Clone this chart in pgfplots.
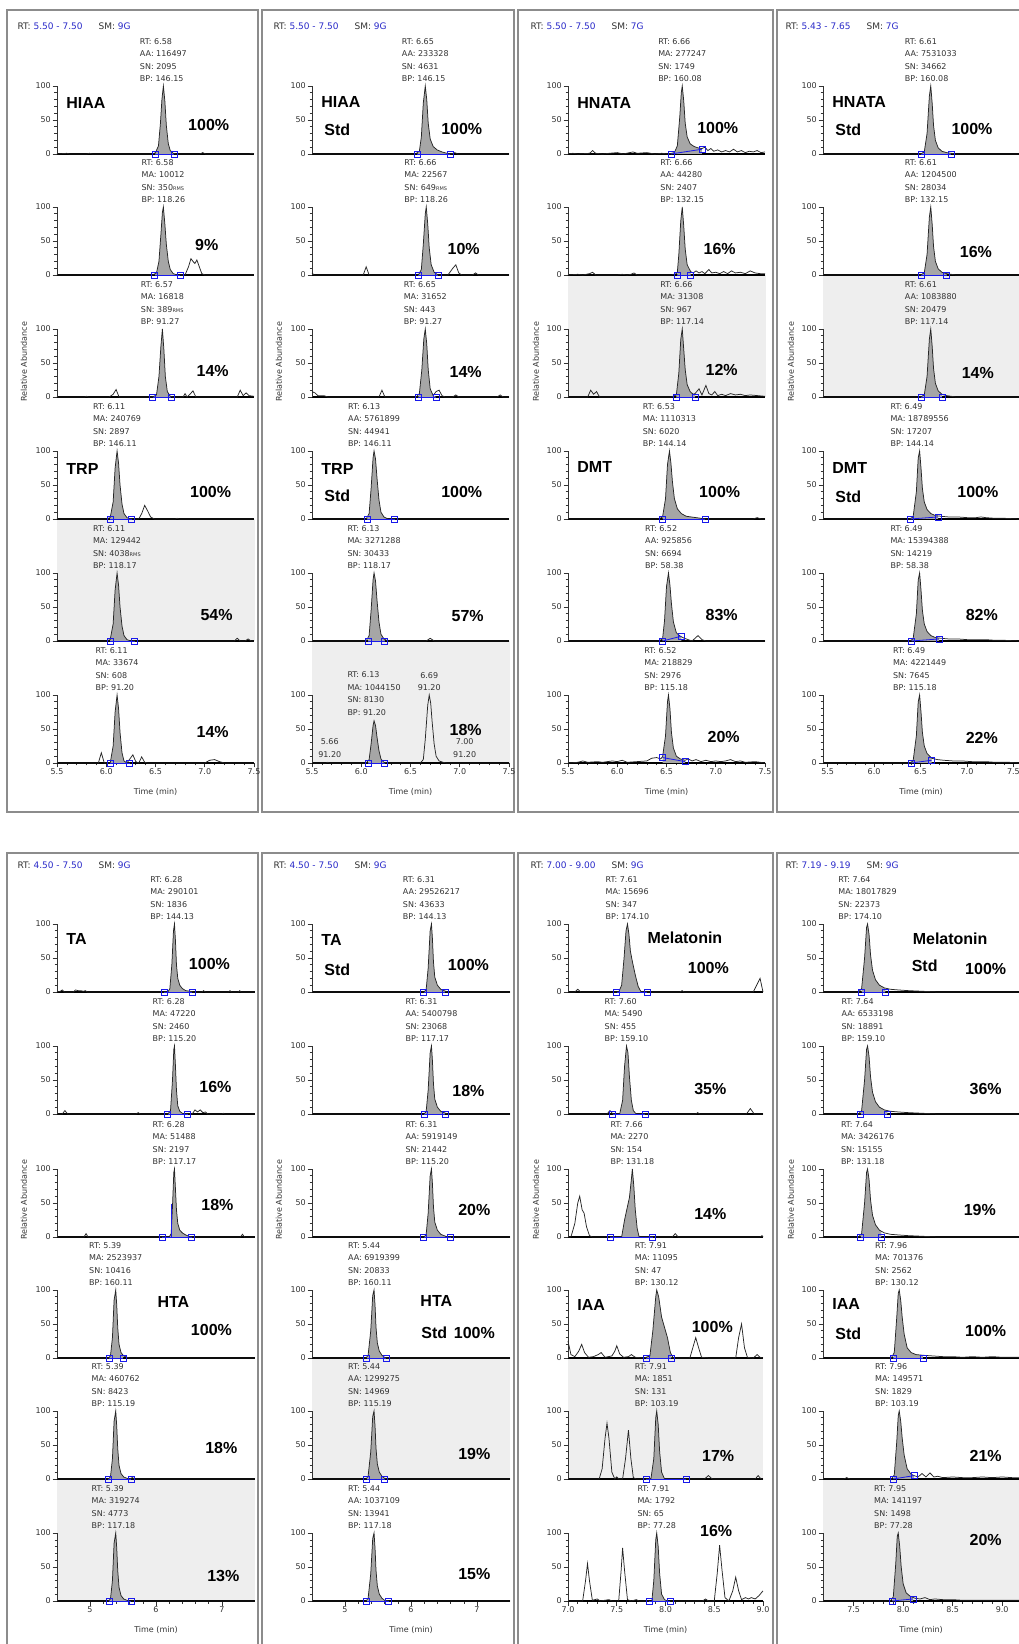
\documentclass[border=0pt]{standalone}
\usepackage{fontspec}
\setmainfont{DejaVu Sans}
\newfontfamily\lib{Liberation Sans}
\usepackage{pgfplots}
\pgfplotsset{compat=1.18}

\definecolor{pk}{RGB}{166,166,166}
\definecolor{bgp}{RGB}{238,238,238}
\definecolor{txt}{RGB}{50,50,50}
\definecolor{mk}{RGB}{25,25,235}
\definecolor{hb}{RGB}{40,40,200}
\definecolor{frm}{RGB}{140,140,140}

\newcommand{\sm}{\fontsize{8}{12.5}\selectfont}
\newcommand{\hdr}{\fontsize{9}{10}\selectfont}
\newcommand{\lab}{\lib\bfseries\fontsize{16}{18}\selectfont}
\newcommand{\rms}[1]{#1{\fontsize{5}{5}\selectfont RMS}}

\tikzset{anc/.style={anchor=south, align=left, font=\sm, text=txt, inner sep=0pt, yshift=4pt}}

% one chromatogram trace, its integrated peak, and the integration limits
\newcommand{\tr}[1]{\addplot[line width=0.75pt, black!85] coordinates {#1};}
\newcommand{\pkf}[1]{\addplot[draw=none, fill=pk] coordinates {#1} \closedcycle;}
\newcommand{\mks}[1]{\addplot[mk, line width=0.8pt, mark=square, mark size=3pt] coordinates {#1};}
\newcommand{\ann}[5][100]{\node[anc] at (axis cs:#2,#1) {RT: #2\\#3\\SN: #4\\BP: #5};}
\newcommand{\pct}[3]{\node[font=\lab] at (rel axis cs:#1,#2) {#3\%};}
\newcommand{\nm}[3]{\node[font=\lab, anchor=west] at (rel axis cs:#1,#2) {#3};}
\newcommand{\tlab}{\node[font=\sm, text=txt, yshift=-29pt] at (rel axis cs:0.5,0) {Time (min)};}

\pgfplotsset{
  chrom/.style={scale only axis, height=68pt, ymin=0, ymax=100, clip=false, anchor=south west,
    axis x line*=bottom, axis y line*=left,
    x axis line style={black, line width=1.6pt, -},
    y axis line style={black!80, line width=0.8pt, -},
    ytick={0,50,100}, yticklabels={0,50,100}, minor y tick num=4,
    xtick=\empty,
    tick align=outside, major tick length=4.5pt, minor tick length=2.5pt,
    tick style={black!80, line width=0.6pt},
    yticklabel style={font=\sm, text=txt, inner sep=1.5pt},
    xticklabel style={font=\sm, text=txt, inner sep=1pt},
  },
  cA/.style={chrom, xmin=5.5, xmax=7.5, width=197pt},
  cD/.style={chrom, xmin=5.45, xmax=7.56, width=196pt},
  cE/.style={chrom, xmin=4.5, xmax=7.5, width=198pt},
  cG/.style={chrom, xmin=7.0, xmax=9.0, width=195pt},
  cH/.style={chrom, xmin=7.19, xmax=9.17, width=196pt},
  lA/.style={xtick={5.5,6,6.5,7,7.5}, xticklabels={5.5,6.0,6.5,7.0,7.5}, minor x tick num=4},
  lE/.style={xtick={5,6,7}, xticklabels={5,6,7}, minor x tick num=4},
  lG/.style={xtick={7,7.5,8,8.5,9}, xticklabels={7.0,7.5,8.0,8.5,9.0}, minor x tick num=4},
  lH/.style={xtick={7.5,8,8.5,9}, xticklabels={7.5,8.0,8.5,9.0}, minor x tick num=4},
}

\begin{document}
\begin{tikzpicture}[x=1pt, y=1pt]
\useasboundingbox (0,0) rectangle (1019,1644);
\clip (0,0) rectangle (1019,1644);

% shaded sample traces
\fill[bgp] (57,1003) rectangle (255,1125);
\fill[bgp] (312,881) rectangle (510,1003);
\fill[bgp] (568,1247) rectangle (766,1369);
\fill[bgp] (823,1247) rectangle (1019,1369);
\fill[bgp] (57,43) rectangle (255,165);
\fill[bgp] (312,165) rectangle (510,286);
\fill[bgp] (568,165) rectangle (763,286);
\fill[bgp] (823,43) rectangle (1019,165);

% window frames
\draw[frm, line width=1.2pt] (7,832) rectangle (258,1634);
\draw[frm, line width=1.2pt] (262,832) rectangle (514,1634);
\draw[frm, line width=1.2pt] (518,832) rectangle (773,1634);
\draw[frm, line width=1.2pt] (777,832) rectangle (1030,1634);
\draw[frm, line width=1.2pt] (7,-5) rectangle (258,791);
\draw[frm, line width=1.2pt] (262,-5) rectangle (514,791);
\draw[frm, line width=1.2pt] (518,-5) rectangle (773,791);
\draw[frm, line width=1.2pt] (777,-5) rectangle (1030,791);

% window headers
\node[anchor=west, font=\hdr, text=txt] at (14,1618) {RT: \textcolor{hb}{5.50 - 7.50}\hspace{16pt}SM: \textcolor{hb}{9G}};
\node[anchor=west, font=\hdr, text=txt] at (270,1618) {RT: \textcolor{hb}{5.50 - 7.50}\hspace{16pt}SM: \textcolor{hb}{9G}};
\node[anchor=west, font=\hdr, text=txt] at (527,1618) {RT: \textcolor{hb}{5.50 - 7.50}\hspace{16pt}SM: \textcolor{hb}{7G}};
\node[anchor=west, font=\hdr, text=txt] at (782,1618) {RT: \textcolor{hb}{5.43 - 7.65}\hspace{16pt}SM: \textcolor{hb}{7G}};
\node[anchor=west, font=\hdr, text=txt] at (14,779) {RT: \textcolor{hb}{4.50 - 7.50}\hspace{16pt}SM: \textcolor{hb}{9G}};
\node[anchor=west, font=\hdr, text=txt] at (270,779) {RT: \textcolor{hb}{4.50 - 7.50}\hspace{16pt}SM: \textcolor{hb}{9G}};
\node[anchor=west, font=\hdr, text=txt] at (527,779) {RT: \textcolor{hb}{7.00 - 9.00}\hspace{16pt}SM: \textcolor{hb}{9G}};
\node[anchor=west, font=\hdr, text=txt] at (782,779) {RT: \textcolor{hb}{7.19 - 9.19}\hspace{16pt}SM: \textcolor{hb}{9G}};

% y-axis titles
\foreach \xx in {24,279,536,791} {
  \node[rotate=90, font=\sm, text=txt] at (\xx,1282) {Relative Abundance};
  \node[rotate=90, font=\sm, text=txt] at (\xx,444) {Relative Abundance};
}

%================ HIAA / TRP ================
\begin{axis}[cA, at={(57pt,1490pt)}]
\pkf{(6.50,0)(6.50,2)(6.53,12)(6.55,45)(6.565,80)(6.58,100)(6.595,78)(6.61,42)(6.63,15)(6.65,5)(6.68,1)(6.69,0)}
\tr{(5.5,0)(5.6,1)(5.63,0)(5.8,0)(5.83,1)(5.86,0)(6.47,0)(6.50,2)(6.53,12)(6.55,45)(6.565,80)(6.58,100)(6.595,78)(6.61,42)(6.63,15)(6.65,5)(6.68,1)(6.71,0)(6.95,0)(6.98,2)(7.01,0)(7.45,0)(7.48,1)(7.5,0)}
\mks{(6.50,0)(6.69,0)}
\ann{6.58}{AA: 116497}{2095}{146.15}
\nm{0.03}{0.75}{HIAA}
\pct{0.77}{0.43}{100}
\end{axis}
\begin{axis}[cA, at={(57pt,1369pt)}]
\pkf{(6.49,0)(6.51,3)(6.535,20)(6.555,60)(6.57,92)(6.58,100)(6.595,75)(6.61,45)(6.63,20)(6.65,8)(6.68,2)(6.72,0)}
\tr{(5.5,0)(6.47,0)(6.51,3)(6.535,20)(6.555,60)(6.57,92)(6.58,100)(6.595,75)(6.61,45)(6.63,20)(6.65,8)(6.68,2)(6.72,0)(6.80,0)(6.835,12)(6.86,24)(6.88,20)(6.90,17)(6.92,22)(6.94,14)(6.97,2)(7.0,0)(7.5,0)}
\mks{(6.49,0)(6.75,0)}
\ann{6.58}{MA: 10012}{\rms{350}}{118.26}
\pct{0.76}{0.44}{9}
\end{axis}
\begin{axis}[cA, at={(57pt,1247pt)}]
\pkf{(6.47,0)(6.51,3)(6.535,30)(6.555,75)(6.57,100)(6.585,70)(6.60,30)(6.62,8)(6.65,1)(6.66,0)}
\tr{(5.5,0)(5.78,0)(5.80,1)(5.82,0)(6.03,0)(6.07,4)(6.10,11)(6.13,0)(6.47,0)(6.51,3)(6.535,30)(6.555,75)(6.57,100)(6.585,70)(6.60,30)(6.62,8)(6.65,1)(6.68,0)(6.78,0)(6.80,5)(6.82,0)(6.85,4)(6.88,9)(6.91,0)(7.33,0)(7.36,10)(7.39,2)(7.42,6)(7.45,2)(7.5,1)}
\mks{(6.47,0)(6.66,0)}
\ann{6.57}{MA: 16818}{\rms{389}}{91.27}
\pct{0.79}{0.38}{14}
\end{axis}
\begin{axis}[cA, at={(57pt,1125pt)}]
\pkf{(6.04,0)(6.04,2)(6.07,25)(6.09,75)(6.11,100)(6.125,82)(6.14,50)(6.16,22)(6.18,8)(6.21,2)(6.25,0)(6.26,0)}
\tr{(5.5,0)(6.0,0)(6.04,2)(6.07,25)(6.09,75)(6.11,100)(6.125,82)(6.14,50)(6.16,22)(6.18,8)(6.21,2)(6.25,0)(6.33,0)(6.36,8)(6.39,20)(6.42,12)(6.45,3)(6.49,0)(6.70,0)(6.72,1)(6.74,0)(7.5,0)}
\mks{(6.04,0)(6.26,0)}
\ann{6.11}{MA: 240769}{2897}{146.11}
\nm{0.03}{0.74}{TRP}
\pct{0.78}{0.39}{100}
\end{axis}
\begin{axis}[cA, at={(57pt,1003pt)}]
\pkf{(6.04,0)(6.04,2)(6.07,25)(6.09,75)(6.11,100)(6.125,82)(6.14,50)(6.16,22)(6.18,8)(6.21,2)(6.25,0)(6.29,0)}
\tr{(5.5,0)(6.0,0)(6.04,2)(6.07,25)(6.09,75)(6.11,100)(6.125,82)(6.14,50)(6.16,22)(6.18,8)(6.21,2)(6.25,0)(7.30,0)(7.33,4)(7.36,0)(7.41,0)(7.44,3)(7.47,0)(7.5,0)}
\mks{(6.04,0)(6.29,0)}
\ann{6.11}{MA: 129442}{\rms{4038}}{118.17}
\pct{0.81}{0.38}{54}
\end{axis}
\begin{axis}[cA, lA, at={(57pt,881pt)}]
\pkf{(6.04,0)(6.07,25)(6.09,75)(6.11,100)(6.125,80)(6.14,45)(6.16,15)(6.18,3)(6.21,0)(6.24,0)}
\tr{(5.5,0)(5.92,0)(5.95,15)(5.98,0)(6.04,0)(6.07,25)(6.09,75)(6.11,100)(6.125,80)(6.14,45)(6.16,15)(6.18,3)(6.21,0)(6.24,6)(6.27,12)(6.30,2)(6.33,0)(6.36,9)(6.39,1)(6.42,0)(7.0,0)(7.05,4)(7.10,5)(7.15,2)(7.2,0)(7.5,0)}
\mks{(6.04,0)(6.24,0)}
\ann{6.11}{MA: 33674}{608}{91.20}
\pct{0.79}{0.45}{14}
\tlab
\end{axis}

%================ HIAA Std / TRP Std ================
\begin{axis}[cA, at={(312pt,1490pt)}]
\pkf{(6.57,0)(6.59,4)(6.61,25)(6.63,75)(6.65,100)(6.665,80)(6.68,45)(6.70,22)(6.73,11)(6.77,6)(6.82,3)(6.87,1)(6.90,0)}
\tr{(5.5,0)(6.55,0)(6.59,4)(6.61,25)(6.63,75)(6.65,100)(6.665,80)(6.68,45)(6.70,22)(6.73,11)(6.77,6)(6.82,3)(6.87,1)(6.91,0)(6.95,2)(6.98,0)(7.5,0)}
\mks{(6.57,0)(6.90,0)}
\ann{6.65}{AA: 233328}{4631}{146.15}
\nm{0.03}{0.77}{HIAA}
\nm{0.045}{0.35}{Std}
\pct{0.76}{0.37}{100}
\end{axis}
\begin{axis}[cA, at={(312pt,1369pt)}]
\pkf{(6.58,0)(6.61,8)(6.63,45)(6.65,90)(6.66,100)(6.675,75)(6.69,40)(6.71,15)(6.74,4)(6.78,0)}
\tr{(5.5,3)(5.52,0)(6.02,0)(6.05,12)(6.08,0)(6.58,0)(6.61,8)(6.63,45)(6.65,90)(6.66,100)(6.675,75)(6.69,40)(6.71,15)(6.74,4)(6.78,0)(6.88,0)(6.93,10)(6.96,15)(6.99,3)(7.02,0)(7.13,0)(7.16,3)(7.19,0)(7.5,0)}
\mks{(6.58,0)(6.78,0)}
\ann{6.66}{MA: 22567}{\rms{649}}{118.26}
\pct{0.77}{0.375}{10}
\end{axis}
\begin{axis}[cA, at={(312pt,1247pt)}]
\pkf{(6.58,0)(6.59,5)(6.615,40)(6.635,85)(6.65,100)(6.665,78)(6.68,40)(6.70,12)(6.73,2)(6.76,0)}
\tr{(5.5,8)(5.53,6)(5.56,2)(5.62,2)(5.66,0)(6.18,0)(6.21,10)(6.24,0)(6.56,0)(6.59,5)(6.615,40)(6.635,85)(6.65,100)(6.665,78)(6.68,40)(6.70,12)(6.73,2)(6.76,8)(6.79,10)(6.82,2)(6.85,0)(6.93,0)(6.96,3)(6.99,0)(7.38,0)(7.41,3)(7.44,0)(7.5,0)}
\mks{(6.58,0)(6.76,0)}
\ann{6.65}{MA: 31652}{443}{91.27}
\pct{0.78}{0.37}{14}
\end{axis}
\begin{axis}[cA, at={(312pt,1125pt)}]
\pkf{(6.06,0)(6.08,8)(6.10,45)(6.12,90)(6.13,100)(6.145,88)(6.16,60)(6.18,28)(6.20,10)(6.23,3)(6.27,0)(6.34,0)}
\tr{(5.5,0)(6.05,0)(6.08,8)(6.10,45)(6.12,90)(6.13,100)(6.145,88)(6.16,60)(6.18,28)(6.20,10)(6.23,3)(6.27,0)(7.5,0)}
\mks{(6.06,0)(6.34,0)}
\ann{6.13}{AA: 5761899}{44941}{146.11}
\nm{0.03}{0.74}{TRP}
\nm{0.045}{0.34}{Std}
\pct{0.76}{0.39}{100}
\end{axis}
\begin{axis}[cA, at={(312pt,1003pt)}]
\pkf{(6.07,0)(6.08,8)(6.10,45)(6.12,90)(6.13,100)(6.145,88)(6.16,60)(6.18,28)(6.20,10)(6.23,3)(6.24,0)}
\tr{(5.5,0)(6.05,0)(6.08,8)(6.10,45)(6.12,90)(6.13,100)(6.145,88)(6.16,60)(6.18,28)(6.20,10)(6.23,3)(6.27,0)(6.66,0)(6.70,4)(6.74,0)(7.5,0)}
\mks{(6.07,0)(6.24,0)}
\ann{6.13}{MA: 3271288}{30433}{118.17}
\pct{0.79}{0.36}{57}
\end{axis}
\begin{axis}[cA, lA, at={(312pt,881pt)}]
\pkf{(6.07,0)(6.08,5)(6.10,28)(6.12,55)(6.13,62)(6.145,55)(6.16,38)(6.18,18)(6.20,6)(6.23,1)(6.24,0)}
\tr{(5.5,0)(5.64,0)(5.66,1)(5.68,0)(6.05,0)(6.08,5)(6.10,28)(6.12,55)(6.13,62)(6.145,55)(6.16,38)(6.18,18)(6.20,6)(6.23,1)(6.27,0)(6.60,0)(6.63,5)(6.65,35)(6.675,85)(6.69,100)(6.705,88)(6.72,60)(6.74,28)(6.76,10)(6.79,3)(6.83,1)(6.87,0)(7.5,0)}
\mks{(6.07,0)(6.24,0)}
\ann[64]{6.13}{MA: 1044150}{8130}{91.20}
\node[anc, align=center] at (axis cs:6.69,100) {6.69\\91.20};
\node[anc, align=center] at (axis cs:5.68,2) {5.66\\91.20};
\node[anc, align=center] at (axis cs:7.05,2) {7.00\\91.20};
\pct{0.78}{0.48}{18}
\tlab
\end{axis}

%================ HNATA / DMT ================
\begin{axis}[cA, at={(568pt,1490pt)}]
\pkf{(6.545,0)(6.58,2)(6.61,12)(6.635,55)(6.65,90)(6.66,100)(6.675,78)(6.69,45)(6.71,25)(6.74,15)(6.78,11)(6.82,9)(6.86,8)}
\tr{(5.5,0)(5.55,1)(5.6,0)(5.72,1)(5.75,5)(5.78,1)(5.85,0)(5.92,1)(6.0,2)(6.06,0)(6.16,3)(6.2,1)(6.3,2)(6.38,0)(6.45,1)(6.52,0)(6.58,2)(6.61,12)(6.635,55)(6.65,90)(6.66,100)(6.675,78)(6.69,45)(6.71,25)(6.74,15)(6.78,11)(6.82,9)(6.86,8)(6.89,10)(6.92,5)(6.95,8)(6.98,4)(7.02,6)(7.06,3)(7.10,5)(7.14,3)(7.18,7)(7.22,3)(7.26,5)(7.30,2)(7.34,4)(7.38,3)(7.42,5)(7.46,2)(7.5,3)}
\mks{(6.545,0)(6.86,7)}
\ann{6.66}{MA: 277247}{1749}{160.08}
\nm{0.03}{0.75}{HNATA}
\pct{0.76}{0.385}{100}
\end{axis}
\begin{axis}[cA, at={(568pt,1369pt)}]
\pkf{(6.61,0)(6.61,4)(6.625,30)(6.645,80)(6.66,100)(6.675,72)(6.69,38)(6.71,15)(6.745,5)}
\tr{(5.5,0)(5.6,1)(5.65,0)(5.72,2)(5.75,4)(5.78,0)(6.0,0)(6.05,1)(6.1,0)(6.14,1)(6.17,3)(6.2,0)(6.55,0)(6.6,2)(6.61,4)(6.625,30)(6.645,80)(6.66,100)(6.675,72)(6.69,38)(6.71,15)(6.745,5)(6.77,3)(6.80,6)(6.83,3)(6.86,5)(6.89,2)(6.93,8)(6.96,3)(7.0,4)(7.04,2)(7.08,5)(7.12,2)(7.16,6)(7.2,3)(7.25,4)(7.3,2)(7.35,6)(7.4,3)(7.45,2)(7.5,2)}
\mks{(6.61,0)(6.745,0)}
\ann{6.66}{AA: 44280}{2407}{132.15}
\pct{0.77}{0.375}{16}
\end{axis}
\begin{axis}[cA, at={(568pt,1247pt)}]
\pkf{(6.60,0)(6.60,3)(6.625,35)(6.645,85)(6.66,100)(6.675,70)(6.69,40)(6.71,18)(6.74,8)(6.77,4)(6.79,5)}
\tr{(5.5,0)(5.70,0)(5.73,10)(5.76,4)(5.79,8)(5.82,0)(6.55,0)(6.60,3)(6.625,35)(6.645,85)(6.66,100)(6.675,70)(6.69,40)(6.71,18)(6.74,8)(6.77,4)(6.79,5)(6.83,12)(6.86,3)(6.90,17)(6.93,5)(6.96,3)(6.99,8)(7.02,2)(7.06,4)(7.10,2)(7.15,5)(7.20,3)(7.25,4)(7.30,2)(7.35,3)(7.5,1)}
\mks{(6.60,0)(6.79,0)}
\ann{6.66}{MA: 31308}{967}{117.14}
\pct{0.78}{0.40}{12}
\end{axis}
\begin{axis}[cA, at={(568pt,1125pt)}]
\pkf{(6.46,0)(6.46,3)(6.49,30)(6.51,80)(6.53,100)(6.545,82)(6.56,55)(6.58,30)(6.61,15)(6.65,8)(6.70,4)(6.75,3)(6.80,2)(6.85,1)(6.89,0)}
\tr{(5.5,0)(6.42,0)(6.46,3)(6.49,30)(6.51,80)(6.53,100)(6.545,82)(6.56,55)(6.58,30)(6.61,15)(6.65,8)(6.70,4)(6.75,3)(6.80,2)(6.85,1)(6.90,0)(7.38,0)(7.42,2)(7.46,0)(7.5,0)}
\mks{(6.46,0)(6.89,0)}
\ann{6.53}{MA: 1110313}{6020}{144.14}
\nm{0.03}{0.77}{DMT}
\pct{0.77}{0.39}{100}
\end{axis}
\begin{axis}[cA, at={(568pt,1003pt)}]
\pkf{(6.46,0)(6.46,3)(6.48,30)(6.50,80)(6.52,100)(6.535,82)(6.55,55)(6.57,28)(6.60,12)(6.64,7)(6.65,7)}
\tr{(5.5,0)(6.42,0)(6.46,3)(6.48,30)(6.50,80)(6.52,100)(6.535,82)(6.55,55)(6.57,28)(6.60,12)(6.64,7)(6.68,4)(6.72,2)(6.76,0)(6.79,4)(6.82,8)(6.86,2)(6.90,0)(7.5,0)}
\mks{(6.46,0)(6.65,7)}
\ann{6.52}{AA: 925856}{6694}{58.38}
\pct{0.78}{0.38}{83}
\end{axis}
\begin{axis}[cA, lA, at={(568pt,881pt)}]
\pkf{(6.46,0)(6.46,9)(6.49,40)(6.51,90)(6.52,100)(6.535,80)(6.55,45)(6.57,22)(6.60,10)(6.64,6)(6.69,4)}
\tr{(5.5,0)(5.6,1)(5.65,3)(5.7,1)(5.8,2)(5.85,1)(5.95,3)(6.0,2)(6.05,4)(6.1,1)(6.2,2)(6.3,3)(6.35,7)(6.40,8)(6.44,6)(6.46,9)(6.49,40)(6.51,90)(6.52,100)(6.535,80)(6.55,45)(6.57,22)(6.60,10)(6.64,6)(6.69,4)(6.72,6)(6.76,3)(6.80,5)(6.85,2)(6.90,4)(6.95,2)(7.0,3)(7.05,2)(7.10,3)(7.15,5)(7.2,2)(7.25,3)(7.3,1)(7.4,2)(7.5,0)}
\mks{(6.46,8)(6.69,2)}
\ann{6.52}{MA: 218829}{2976}{115.18}
\pct{0.79}{0.385}{20}
\tlab
\end{axis}

%================ HNATA Std / DMT Std ================
\begin{axis}[cD, at={(823pt,1490pt)}]
\pkf{(6.51,0)(6.54,3)(6.57,30)(6.595,85)(6.61,100)(6.625,75)(6.64,42)(6.66,20)(6.69,9)(6.73,4)(6.78,2)(6.83,1)}
\tr{(5.45,0)(6.50,0)(6.54,3)(6.57,30)(6.595,85)(6.61,100)(6.625,75)(6.64,42)(6.66,20)(6.69,9)(6.73,4)(6.78,2)(6.83,1)(6.88,0)(7.56,0)}
\mks{(6.51,0)(6.83,0)}
\ann{6.61}{AA: 7531033}{34662}{160.08}
\nm{0.03}{0.77}{HNATA}
\nm{0.045}{0.35}{Std}
\pct{0.76}{0.37}{100}
\end{axis}
\begin{axis}[cD, at={(823pt,1369pt)}]
\pkf{(6.51,0)(6.54,3)(6.57,30)(6.595,85)(6.61,100)(6.625,75)(6.64,42)(6.66,20)(6.69,9)(6.73,4)(6.78,2)}
\tr{(5.45,0)(6.50,0)(6.54,3)(6.57,30)(6.595,85)(6.61,100)(6.625,75)(6.64,42)(6.66,20)(6.69,9)(6.73,4)(6.78,2)(6.83,1)(6.88,0)(7.56,0)}
\mks{(6.51,0)(6.78,0)}
\ann{6.61}{AA: 1204500}{28034}{132.15}
\pct{0.78}{0.34}{16}
\end{axis}
\begin{axis}[cD, at={(823pt,1247pt)}]
\pkf{(6.51,0)(6.54,3)(6.57,30)(6.595,85)(6.61,100)(6.625,75)(6.64,42)(6.66,20)(6.69,9)(6.73,4)}
\tr{(5.45,0)(6.50,0)(6.54,3)(6.57,30)(6.595,85)(6.61,100)(6.625,75)(6.64,42)(6.66,20)(6.69,9)(6.73,4)(6.78,2)(6.83,1)(6.88,0)(7.56,0)}
\mks{(6.51,0)(6.73,0)}
\ann{6.61}{AA: 1083880}{20479}{117.14}
\pct{0.79}{0.35}{14}
\end{axis}
\begin{axis}[cD, at={(823pt,1125pt)}]
\pkf{(6.39,0)(6.42,3)(6.455,40)(6.475,90)(6.49,100)(6.505,75)(6.52,45)(6.54,25)(6.57,14)(6.61,8)(6.66,5)(6.69,4)}
\tr{(5.45,0)(6.38,0)(6.42,3)(6.455,40)(6.475,90)(6.49,100)(6.505,75)(6.52,45)(6.54,25)(6.57,14)(6.61,8)(6.66,5)(6.72,4)(6.80,3)(6.90,3)(7.0,2)(7.1,2)(7.15,3)(7.2,2)(7.3,1)(7.4,1)(7.56,0)}
\mks{(6.39,0)(6.69,3)}
\ann{6.49}{MA: 18789556}{17207}{144.14}
\nm{0.03}{0.75}{DMT}
\nm{0.045}{0.33}{Std}
\pct{0.79}{0.39}{100}
\end{axis}
\begin{axis}[cD, at={(823pt,1003pt)}]
\pkf{(6.40,0)(6.42,3)(6.455,40)(6.475,90)(6.49,100)(6.505,75)(6.52,45)(6.54,25)(6.57,14)(6.61,8)(6.66,5)(6.70,4)}
\tr{(5.45,0)(6.38,0)(6.42,3)(6.455,40)(6.475,90)(6.49,100)(6.505,75)(6.52,45)(6.54,25)(6.57,14)(6.61,8)(6.66,5)(6.72,4)(6.80,3)(6.90,3)(7.0,2)(7.1,2)(7.2,2)(7.3,1)(7.4,1)(7.56,0)}
\mks{(6.40,0)(6.70,3)}
\ann{6.49}{MA: 15394388}{14219}{58.38}
\pct{0.81}{0.38}{82}
\end{axis}
\begin{axis}[cD, lA, at={(823pt,881pt)}]
\pkf{(6.40,0)(6.42,3)(6.455,40)(6.475,90)(6.49,100)(6.505,75)(6.52,45)(6.54,25)(6.57,14)(6.62,7)}
\tr{(5.45,0)(6.38,0)(6.42,3)(6.455,40)(6.475,90)(6.49,100)(6.505,75)(6.52,45)(6.54,25)(6.57,14)(6.62,7)(6.68,5)(6.75,4)(6.85,3)(6.95,3)(7.05,2)(7.2,2)(7.3,1)(7.45,1)(7.56,0)}
\mks{(6.40,0)(6.62,4)}
\ann{6.49}{MA: 4221449}{7645}{115.18}
\pct{0.81}{0.37}{22}
\tlab
\end{axis}

%================ TA / HTA ================
\begin{axis}[cE, at={(57pt,652pt)}]
\pkf{(6.12,0)(6.18,0)(6.21,5)(6.24,40)(6.265,90)(6.28,100)(6.295,75)(6.31,40)(6.33,20)(6.36,10)(6.40,5)(6.45,2)(6.52,1)(6.55,0)}
\tr{(4.5,0)(4.55,1)(4.58,3)(4.61,0)(4.75,0)(4.78,3)(4.82,2)(4.86,2)(4.9,1)(4.93,2)(4.96,0)(6.18,0)(6.21,5)(6.24,40)(6.265,90)(6.28,100)(6.295,75)(6.31,40)(6.33,20)(6.36,10)(6.40,5)(6.45,2)(6.52,1)(6.56,0)(6.70,0)(6.72,2)(6.75,0)(7.10,0)(7.12,2)(7.14,0)(7.25,0)(7.27,2)(7.29,0)(7.5,0)}
\mks{(6.12,0)(6.55,0)}
\ann{6.28}{MA: 290101}{1836}{144.13}
\nm{0.03}{0.78}{TA}
\pct{0.77}{0.41}{100}
\end{axis}
\begin{axis}[cE, at={(57pt,530pt)}]
\pkf{(6.18,0)(6.22,5)(6.25,50)(6.27,95)(6.28,100)(6.295,70)(6.31,35)(6.33,12)(6.36,4)(6.40,1)(6.45,0)(6.48,0)}
\tr{(4.5,0)(4.58,0)(4.62,5)(4.66,0)(5.70,0)(5.73,2)(5.76,0)(6.18,0)(6.22,5)(6.25,50)(6.27,95)(6.28,100)(6.295,70)(6.31,35)(6.33,12)(6.36,4)(6.40,1)(6.45,0)(6.55,0)(6.59,6)(6.63,3)(6.67,6)(6.71,2)(6.75,3)(6.78,0)(7.0,0)(7.02,1)(7.04,0)(7.5,0)}
\mks{(6.18,0)(6.48,0)}
\ann{6.28}{MA: 47220}{2460}{115.20}
\pct{0.80}{0.40}{16}
\end{axis}
\begin{axis}[cE, at={(57pt,407pt)}]
\pkf{(6.09,0)(6.20,0)(6.23,5)(6.25,45)(6.27,95)(6.28,100)(6.295,70)(6.31,40)(6.33,20)(6.36,10)(6.40,6)(6.45,3)(6.50,1)(6.54,0)}
\tr{(4.5,0)(4.91,0)(4.94,5)(4.97,0)(6.20,0)(6.23,5)(6.25,45)(6.27,95)(6.28,100)(6.295,70)(6.31,40)(6.33,20)(6.36,10)(6.40,6)(6.45,3)(6.50,1)(6.55,0)(7.28,0)(7.31,4)(7.34,0)(7.5,0)}
\addplot[mk, line width=0.7pt] coordinates {(6.235,0)(6.235,48)};
\mks{(6.09,0)(6.54,0)}
\ann{6.28}{MA: 51488}{2197}{117.17}
\pct{0.81}{0.47}{18}
\end{axis}
\begin{axis}[cE, at={(57pt,286pt)}]
\pkf{(5.29,0)(5.31,3)(5.34,30)(5.365,85)(5.39,100)(5.405,78)(5.42,45)(5.44,20)(5.47,8)(5.50,3)}
\tr{(4.5,0)(5.28,0)(5.31,3)(5.34,30)(5.365,85)(5.39,100)(5.405,78)(5.42,45)(5.44,20)(5.47,8)(5.51,3)(5.56,1)(5.60,0)(7.5,0)}
\mks{(5.29,0)(5.50,0)}
\ann{5.39}{MA: 2523937}{10416}{160.11}
\nm{0.49}{0.83}{HTA}
\pct{0.78}{0.41}{100}
\end{axis}
\begin{axis}[cE, at={(57pt,165pt)}]
\pkf{(5.28,0)(5.31,3)(5.34,30)(5.365,85)(5.39,100)(5.405,78)(5.42,45)(5.44,20)(5.47,8)(5.51,3)(5.56,1)(5.60,0)(5.62,0)}
\tr{(4.5,0)(5.28,0)(5.31,3)(5.34,30)(5.365,85)(5.39,100)(5.405,78)(5.42,45)(5.44,20)(5.47,8)(5.51,3)(5.56,1)(5.60,0)(5.64,2)(5.68,0)(7.5,0)}
\mks{(5.28,0)(5.62,0)}
\ann{5.39}{MA: 460762}{8423}{115.19}
\pct{0.83}{0.45}{18}
\end{axis}
\begin{axis}[cE, lE, at={(57pt,43pt)}]
\pkf{(5.29,0)(5.31,3)(5.34,30)(5.365,85)(5.39,100)(5.405,78)(5.42,45)(5.44,20)(5.47,8)(5.51,3)(5.56,1)(5.60,0)(5.62,0)}
\tr{(4.5,0)(5.28,0)(5.31,3)(5.34,30)(5.365,85)(5.39,100)(5.405,78)(5.42,45)(5.44,20)(5.47,8)(5.51,3)(5.56,1)(5.60,0)(7.5,0)}
\mks{(5.29,0)(5.62,0)}
\ann{5.39}{MA: 319274}{4773}{117.18}
\pct{0.84}{0.37}{13}
\tlab
\end{axis}

%================ TA Std / HTA Std ================
\begin{axis}[cE, at={(312pt,652pt)}]
\pkf{(6.19,0)(6.20,0)(6.23,4)(6.26,35)(6.29,90)(6.31,100)(6.325,78)(6.34,45)(6.36,22)(6.40,10)(6.45,4)(6.50,2)(6.52,1)}
\tr{(4.5,0)(6.20,0)(6.23,4)(6.26,35)(6.29,90)(6.31,100)(6.325,78)(6.34,45)(6.36,22)(6.40,10)(6.45,4)(6.50,2)(6.55,0)(7.5,0)}
\mks{(6.19,0)(6.52,0)}
\ann{6.31}{AA: 29526217}{43633}{144.13}
\nm{0.03}{0.76}{TA}
\nm{0.045}{0.33}{Std}
\pct{0.79}{0.40}{100}
\end{axis}
\begin{axis}[cE, at={(312pt,530pt)}]
\pkf{(6.20,0)(6.23,4)(6.26,35)(6.29,90)(6.31,100)(6.325,78)(6.34,45)(6.36,22)(6.40,10)(6.45,4)(6.50,2)(6.52,1)}
\tr{(4.5,0)(6.20,0)(6.23,4)(6.26,35)(6.29,90)(6.31,100)(6.325,78)(6.34,45)(6.36,22)(6.40,10)(6.45,4)(6.50,2)(6.55,0)(7.5,0)}
\mks{(6.20,0)(6.52,0)}
\ann{6.31}{AA: 5400798}{23068}{117.17}
\pct{0.79}{0.34}{18}
\end{axis}
\begin{axis}[cE, at={(312pt,407pt)}]
\pkf{(6.19,0)(6.20,0)(6.23,4)(6.26,35)(6.29,90)(6.31,100)(6.325,78)(6.34,45)(6.36,22)(6.40,10)(6.45,4)(6.50,2)(6.55,0)(6.60,0)}
\tr{(4.5,0)(6.20,0)(6.23,4)(6.26,35)(6.29,90)(6.31,100)(6.325,78)(6.34,45)(6.36,22)(6.40,10)(6.45,4)(6.50,2)(6.55,0)(7.5,0)}
\mks{(6.19,0)(6.60,0)}
\ann{6.31}{AA: 5919149}{21442}{115.20}
\pct{0.82}{0.39}{20}
\end{axis}
\begin{axis}[cE, at={(312pt,286pt)}]
\pkf{(5.33,0)(5.35,4)(5.39,40)(5.42,92)(5.44,100)(5.455,78)(5.47,45)(5.49,22)(5.52,10)(5.56,4)(5.60,1)(5.62,0)}
\tr{(4.5,0)(5.32,0)(5.35,4)(5.39,40)(5.42,92)(5.44,100)(5.455,78)(5.47,45)(5.49,22)(5.52,10)(5.56,4)(5.60,1)(5.65,0)(7.5,0)}
\mks{(5.33,0)(5.62,0)}
\ann{5.44}{AA: 6919399}{20833}{160.11}
\nm{0.53}{0.84}{HTA}
\nm{0.535}{0.37}{Std}
\pct{0.82}{0.37}{100}
\end{axis}
\begin{axis}[cE, at={(312pt,165pt)}]
\pkf{(5.33,0)(5.35,4)(5.39,40)(5.42,92)(5.44,100)(5.455,78)(5.47,45)(5.49,22)(5.52,10)(5.56,4)(5.60,1)}
\tr{(4.5,0)(5.32,0)(5.35,4)(5.39,40)(5.42,92)(5.44,100)(5.455,78)(5.47,45)(5.49,22)(5.52,10)(5.56,4)(5.60,1)(5.65,0)(7.5,0)}
\mks{(5.33,0)(5.60,0)}
\ann{5.44}{AA: 1299275}{14969}{115.19}
\pct{0.82}{0.37}{19}
\end{axis}
\begin{axis}[cE, lE, at={(312pt,43pt)}]
\pkf{(5.33,0)(5.35,4)(5.39,40)(5.42,92)(5.44,100)(5.455,78)(5.47,45)(5.49,22)(5.52,10)(5.56,4)(5.60,1)(5.66,0)}
\tr{(4.5,0)(5.32,0)(5.35,4)(5.39,40)(5.42,92)(5.44,100)(5.455,78)(5.47,45)(5.49,22)(5.52,10)(5.56,4)(5.60,1)(5.65,0)(7.5,0)}
\mks{(5.33,0)(5.66,0)}
\ann{5.44}{AA: 1037109}{13941}{117.18}
\pct{0.82}{0.40}{15}
\tlab
\end{axis}

%================ Melatonin / IAA ================
\begin{axis}[cG, at={(568pt,652pt)}]
\pkf{(7.50,0)(7.52,0)(7.55,10)(7.575,50)(7.595,90)(7.61,100)(7.625,85)(7.64,60)(7.66,45)(7.69,25)(7.72,8)(7.75,0)(7.81,0)}
\tr{(7.0,0)(7.07,0)(7.10,4)(7.13,0)(7.52,0)(7.55,10)(7.575,50)(7.595,90)(7.61,100)(7.625,85)(7.64,60)(7.66,45)(7.69,25)(7.72,8)(7.75,0)(8.15,0)(8.17,2)(8.19,0)(8.90,0)(8.97,20)(9.0,0)}
\mks{(7.50,0)(7.81,0)}
\ann{7.61}{MA: 15696}{347}{174.10}
\nm{0.39}{0.79}{Melatonin}
\pct{0.72}{0.36}{100}
\end{axis}
\begin{axis}[cG, at={(568pt,530pt)}]
\pkf{(7.46,0)(7.53,0)(7.56,20)(7.58,70)(7.60,100)(7.615,90)(7.63,55)(7.65,20)(7.67,5)(7.70,0)(7.79,0)}
\tr{(7.0,0)(7.40,0)(7.43,5)(7.46,0)(7.53,0)(7.56,20)(7.58,70)(7.60,100)(7.615,90)(7.63,55)(7.65,20)(7.67,5)(7.70,0)(8.31,0)(8.33,2)(8.35,0)(8.83,0)(8.87,8)(8.91,0)(9.0,0)}
\mks{(7.46,0)(7.79,0)}
\ann{7.60}{MA: 5490}{455}{159.10}
\pct{0.73}{0.37}{35}
\end{axis}
\begin{axis}[cG, at={(568pt,407pt)}]
\pkf{(7.43,0)(7.55,0)(7.58,25)(7.61,45)(7.63,58)(7.65,85)(7.66,100)(7.675,75)(7.69,40)(7.71,12)(7.73,0)(7.87,0)}
\tr{(7.0,0)(7.03,0)(7.07,20)(7.10,50)(7.12,60)(7.145,40)(7.165,35)(7.19,15)(7.22,2)(7.25,0)(7.55,0)(7.58,25)(7.61,45)(7.63,58)(7.65,85)(7.66,100)(7.675,75)(7.69,40)(7.71,12)(7.73,0)(8.07,0)(8.10,5)(8.13,0)(8.97,0)(8.99,2)(9.0,0)}
\mks{(7.43,0)(7.87,0)}
\ann{7.66}{MA: 2270}{154}{131.18}
\pct{0.73}{0.34}{14}
\end{axis}
\begin{axis}[cG, at={(568pt,286pt)}]
\pkf{(7.80,0)(7.84,3)(7.87,40)(7.90,90)(7.91,100)(7.93,90)(7.96,60)(7.99,45)(8.02,30)(8.05,8)(8.06,5)}
\tr{(7.0,25)(7.03,5)(7.07,2)(7.11,10)(7.14,20)(7.17,8)(7.21,1)(7.26,2)(7.31,5)(7.34,8)(7.38,1)(7.45,3)(7.48,10)(7.50,18)(7.53,6)(7.57,1)(7.62,2)(7.65,5)(7.69,1)(7.78,0)(7.84,3)(7.87,40)(7.90,90)(7.91,100)(7.93,90)(7.96,60)(7.99,45)(8.02,30)(8.05,8)(8.08,0)(8.25,0)(8.29,20)(8.31,30)(8.34,15)(8.37,1)(8.45,0)(8.72,0)(8.75,30)(8.78,50)(8.81,15)(8.84,1)(8.90,0)(8.94,5)(8.97,1)(9.0,0)}
\mks{(7.80,0)(8.06,0)}
\ann{7.91}{MA: 11095}{47}{130.12}
\nm{0.03}{0.78}{IAA}
\pct{0.74}{0.46}{100}
\end{axis}
\begin{axis}[cG, at={(568pt,165pt)}]
\pkf{(7.80,0)(7.85,0)(7.88,30)(7.90,90)(7.91,100)(7.925,80)(7.94,40)(7.96,10)(7.99,0)(8.21,0)}
\tr{(7.0,0)(7.32,0)(7.35,15)(7.38,60)(7.40,82)(7.42,60)(7.45,10)(7.48,0)(7.50,3)(7.52,0)(7.56,0)(7.59,30)(7.62,72)(7.645,30)(7.67,2)(7.70,0)(7.85,0)(7.88,30)(7.90,90)(7.91,100)(7.925,80)(7.94,40)(7.96,10)(7.99,0)(8.40,0)(8.44,5)(8.48,0)(8.92,0)(8.95,5)(8.98,0)(9.0,0)}
\mks{(7.80,0)(8.21,0)}
\ann{7.91}{MA: 1851}{131}{103.19}
\pct{0.77}{0.34}{17}
\end{axis}
\begin{axis}[cG, lG, at={(568pt,43pt)}]
\pkf{(7.83,0)(7.86,0)(7.88,30)(7.90,90)(7.91,100)(7.925,80)(7.94,40)(7.96,10)(7.99,2)(8.02,0)(8.05,0)}
\tr{(7.0,0)(7.15,0)(7.18,30)(7.20,55)(7.22,30)(7.25,1)(7.30,3)(7.33,0)(7.42,2)(7.45,0)(7.52,0)(7.545,45)(7.56,78)(7.58,45)(7.61,2)(7.65,0)(7.70,2)(7.73,0)(7.86,0)(7.88,30)(7.90,90)(7.91,100)(7.925,80)(7.94,40)(7.96,10)(7.99,2)(8.02,0)(8.38,0)(8.41,3)(8.44,0)(8.50,0)(8.53,40)(8.555,82)(8.58,45)(8.61,5)(8.65,0)(8.69,15)(8.72,35)(8.75,15)(8.78,2)(8.82,5)(8.85,3)(8.88,5)(8.92,3)(8.96,8)(9.0,15)}
\mks{(7.83,0)(8.05,0)}
\ann{7.91}{MA: 1792}{65}{77.28}
\pct{0.76}{1.03}{16}
\tlab
\end{axis}

%================ Melatonin Std / IAA Std ================
\begin{axis}[cH, at={(823pt,652pt)}]
\pkf{(7.58,0)(7.58,5)(7.61,50)(7.63,95)(7.64,100)(7.655,85)(7.67,55)(7.69,32)(7.72,18)(7.76,10)(7.81,6)(7.82,5)}
\tr{(7.19,0)(7.55,0)(7.58,5)(7.61,50)(7.63,95)(7.64,100)(7.655,85)(7.67,55)(7.69,32)(7.72,18)(7.76,10)(7.81,6)(7.87,4)(7.95,3)(8.05,2)(8.2,1)(8.35,0)(9.17,0)}
\mks{(7.58,0)(7.82,0)}
\ann{7.64}{MA: 18017829}{22373}{174.10}
\nm{0.44}{0.78}{Melatonin}
\nm{0.435}{0.38}{Std}
\pct{0.83}{0.335}{100}
\end{axis}
\begin{axis}[cH, at={(823pt,530pt)}]
\pkf{(7.57,0)(7.58,5)(7.61,50)(7.63,95)(7.64,100)(7.655,85)(7.67,55)(7.69,32)(7.72,18)(7.76,10)(7.81,6)(7.84,5)}
\tr{(7.19,0)(7.55,0)(7.58,5)(7.61,50)(7.63,95)(7.64,100)(7.655,85)(7.67,55)(7.69,32)(7.72,18)(7.76,10)(7.81,6)(7.87,4)(7.95,3)(8.05,2)(8.2,1)(8.35,0)(9.17,0)}
\mks{(7.57,0)(7.84,0)}
\ann{7.64}{AA: 6533198}{18891}{159.10}
\pct{0.83}{0.37}{36}
\end{axis}
\begin{axis}[cH, at={(823pt,407pt)}]
\pkf{(7.57,0)(7.58,5)(7.61,50)(7.63,95)(7.64,100)(7.655,85)(7.67,55)(7.69,32)(7.72,18)(7.76,10)(7.78,8)}
\tr{(7.19,0)(7.55,0)(7.58,5)(7.61,50)(7.63,95)(7.64,100)(7.655,85)(7.67,55)(7.69,32)(7.72,18)(7.76,10)(7.81,6)(7.87,4)(7.95,3)(8.05,2)(8.2,1)(8.35,0)(9.17,0)}
\mks{(7.57,0)(7.78,0)}
\ann{7.64}{MA: 3426176}{15155}{131.18}
\pct{0.80}{0.39}{19}
\end{axis}
\begin{axis}[cH, at={(823pt,286pt)}]
\pkf{(7.90,0)(7.91,8)(7.935,60)(7.95,95)(7.96,100)(7.975,85)(7.99,60)(8.01,35)(8.04,15)(8.08,8)(8.13,5)(8.20,4)}
\tr{(7.19,0)(7.88,0)(7.91,8)(7.935,60)(7.95,95)(7.96,100)(7.975,85)(7.99,60)(8.01,35)(8.04,15)(8.08,8)(8.13,5)(8.2,4)(8.3,3)(8.4,2)(8.5,2)(8.6,1)(8.7,2)(8.8,1)(8.9,2)(9.0,1)(9.17,1)}
\mks{(7.90,0)(8.20,0)}
\ann{7.96}{MA: 701376}{2562}{130.12}
\nm{0.03}{0.80}{IAA}
\nm{0.045}{0.35}{Std}
\pct{0.83}{0.40}{100}
\end{axis}
\begin{axis}[cH, at={(823pt,165pt)}]
\pkf{(7.90,0)(7.91,6)(7.935,55)(7.95,93)(7.96,100)(7.975,85)(7.99,60)(8.01,35)(8.04,15)(8.08,7)(8.11,5)}
\tr{(7.19,0)(7.40,0)(7.43,2)(7.46,0)(7.88,0)(7.91,6)(7.935,55)(7.95,93)(7.96,100)(7.975,85)(7.99,60)(8.01,35)(8.04,15)(8.08,7)(8.11,5)(8.15,3)(8.19,8)(8.23,3)(8.27,9)(8.31,3)(8.35,4)(8.4,2)(8.5,3)(8.6,2)(8.7,2)(8.8,3)(8.9,2)(9.0,3)(9.1,2)(9.17,2)}
\mks{(7.90,0)(8.11,5)}
\ann{7.96}{MA: 149571}{1829}{103.19}
\pct{0.83}{0.34}{21}
\end{axis}
\begin{axis}[cH, lH, at={(823pt,43pt)}]
\pkf{(7.89,0)(7.90,6)(7.925,55)(7.94,95)(7.95,100)(7.965,80)(7.98,50)(8.0,25)(8.03,12)(8.07,7)(8.10,5)}
\tr{(7.19,0)(7.87,0)(7.90,6)(7.925,55)(7.94,95)(7.95,100)(7.965,80)(7.98,50)(8.0,25)(8.03,12)(8.07,7)(8.12,4)(8.17,3)(8.22,5)(8.27,2)(8.32,3)(8.4,2)(8.5,2)(8.6,1)(9.17,1)}
\mks{(7.89,0)(8.10,3)}
\ann{7.95}{MA: 141197}{1498}{77.28}
\pct{0.83}{0.90}{20}
\tlab
\end{axis}
\end{tikzpicture}
\end{document}
